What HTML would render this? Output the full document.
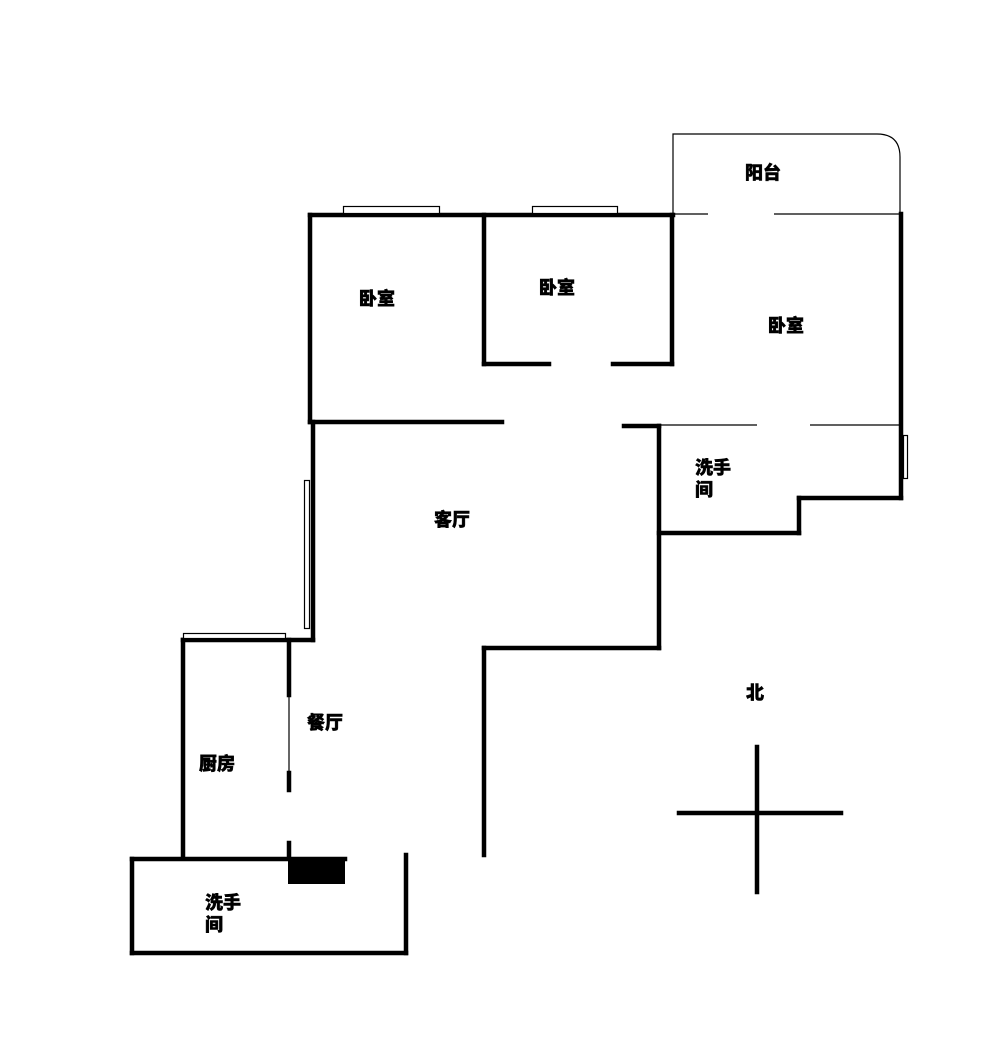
<!DOCTYPE html>
<html><head><meta charset="utf-8"><style>
html,body{margin:0;padding:0;background:#fff;}
svg{display:block}
text{font-family:"Liberation Sans","Noto Sans CJK SC","WenQuanYi Zen Hei",sans-serif;font-weight:900;font-size:18px;fill:#000;stroke:#000;stroke-width:0.5px;}
</style></head><body>
<svg width="1000" height="1054" viewBox="0 0 1000 1054" xmlns="http://www.w3.org/2000/svg">
<g stroke="#000" stroke-width="4.5" fill="none" stroke-linecap="square">
<line x1="310" y1="215" x2="673" y2="215"/>
<line x1="310" y1="215" x2="310" y2="422"/>
<line x1="310" y1="422" x2="502" y2="422"/>
<line x1="484" y1="215" x2="484" y2="364"/>
<line x1="484" y1="364" x2="549" y2="364"/>
<line x1="613" y1="364" x2="672" y2="364"/>
<line x1="672" y1="215" x2="672" y2="364"/>
<line x1="901" y1="214" x2="901" y2="498"/>
<line x1="799" y1="498" x2="901" y2="498"/>
<line x1="799" y1="498" x2="799" y2="533"/>
<line x1="659" y1="533" x2="799" y2="533"/>
<line x1="659" y1="426" x2="659" y2="648"/>
<line x1="624" y1="426" x2="659" y2="426"/>
<line x1="313" y1="422" x2="313" y2="640"/>
<line x1="183" y1="640" x2="313" y2="640"/>
<line x1="484" y1="648" x2="659" y2="648"/>
<line x1="484" y1="648" x2="484" y2="855"/>
<line x1="183" y1="640" x2="183" y2="858"/>
<line x1="289" y1="640" x2="289" y2="695"/>
<line x1="289" y1="773" x2="289" y2="790"/>
<line x1="289" y1="843" x2="289" y2="858"/>
<line x1="132" y1="859" x2="345" y2="859"/>
<line x1="132" y1="859" x2="132" y2="953"/>
<line x1="132" y1="953" x2="406" y2="953"/>
<line x1="406" y1="855" x2="406" y2="953"/>
<line x1="757" y1="747" x2="757" y2="892"/>
<line x1="679" y1="813" x2="841" y2="813"/>
</g>
<g stroke="#000" stroke-width="1.2" fill="none">
<line x1="289" y1="695" x2="289" y2="773"/>
<path d="M673 215 L673 134 L877 134 Q900 134 900 157 L900 214"/>
<line x1="673" y1="214" x2="708" y2="214"/>
<line x1="774" y1="214" x2="900" y2="214"/>
<line x1="659" y1="425" x2="757" y2="425"/>
<line x1="810" y1="425" x2="900" y2="425"/>
<rect x="343.5" y="206.5" width="96" height="7" fill="#fff"/>
<rect x="532.5" y="206.5" width="85" height="7" fill="#fff"/>
<rect x="903.5" y="435.5" width="4" height="43" fill="#fff"/>
<rect x="304.5" y="480.5" width="5" height="148" fill="#fff"/>
<rect x="183.5" y="633.5" width="102" height="5" fill="#fff"/>
</g>
<rect x="288" y="858" width="57" height="26" fill="#000"/>
<text x="745" y="179">阳台</text>
<text x="359" y="305">卧室</text>
<text x="539" y="294">卧室</text>
<text x="768" y="332">卧室</text>
<text x="434" y="526">客厅</text>
<text x="695" y="474">洗手</text>
<text x="695" y="496">间</text>
<text x="307" y="729">餐厅</text>
<text x="199" y="770">厨房</text>
<text x="205" y="909">洗手</text>
<text x="205" y="931">间</text>
<text x="746" y="699">北</text>
</svg>
</body></html>
